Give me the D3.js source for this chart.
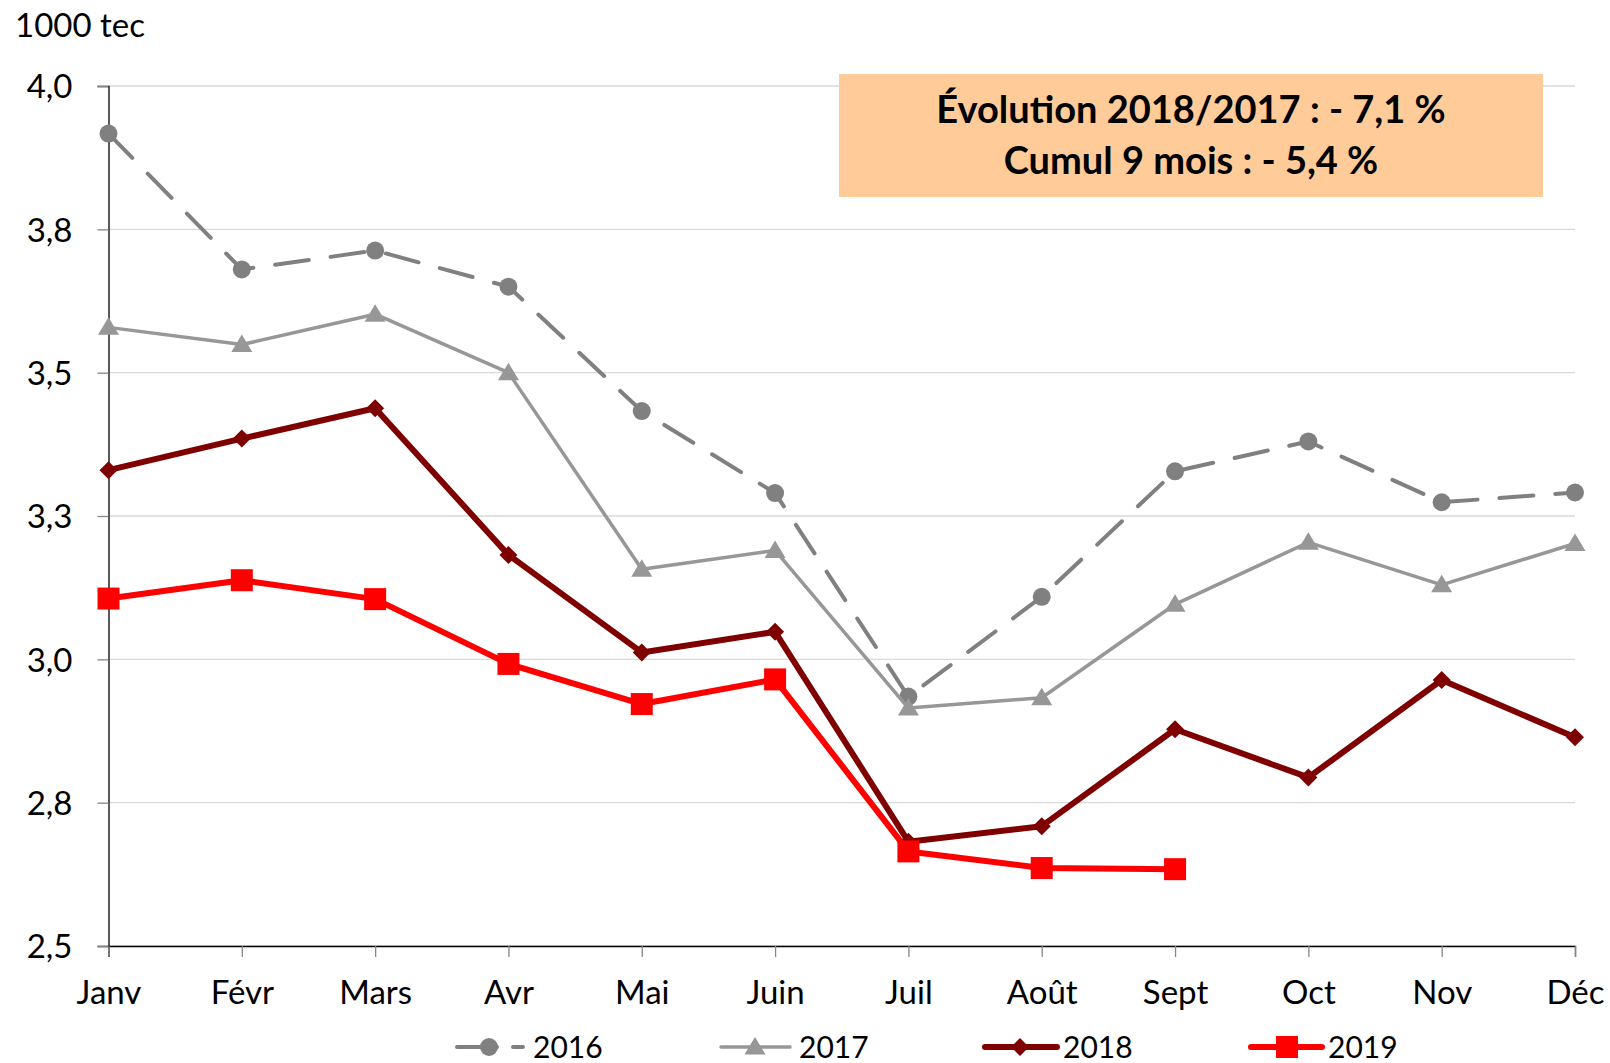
<!DOCTYPE html>
<html>
<head>
<meta charset="utf-8">
<script src="https://cdn.jsdelivr.net/npm/d3@7"></script>
<style>
  html, body { margin: 0; padding: 0; background: #fff; }
  svg { display: block; }
  text { font-family: Lato, "Open Sans", "DejaVu Sans", sans-serif; fill: #000; }
</style>
</head>
<body>
<svg id="chart" width="1610" height="1063"></svg>
<script>
// ---- data ----
const months = ["Janv","Févr","Mars","Avr","Mai","Juin","Juil","Août","Sept","Oct","Nov","Déc"];
const values2016 = [3.917, 3.680, 3.713, 3.650, 3.433, 3.290, 2.935, 3.109, 3.328, 3.380, 3.274, 3.291];
const values2017 = [3.579, 3.549, 3.602, 3.500, 3.157, 3.190, 2.915, 2.933, 3.096, 3.204, 3.130, 3.202];
const values2018 = [3.330, 3.385, 3.438, 3.182, 3.012, 3.048, 2.682, 2.709, 2.878, 2.794, 2.964, 2.864];
const values2019 = [3.106, 3.138, 3.105, 2.992, 2.922, 2.965, 2.665, 2.636, 2.634];
const seriesNames = ["2016", "2017", "2018", "2019"];
const yTickValues = [2.5, 2.75, 3.0, 3.25, 3.5, 3.75, 4.0];
const yTickLabels = ["2,5", "2,8", "3,0", "3,3", "3,5", "3,8", "4,0"];
const yUnit = "1000 tec";
const boxLines = ["Évolution 2018/2017 : - 7,1 %", "Cumul 9 mois : - 5,4 %"];

// ---- layout ----
const svg = d3.select("#chart");
const plotLeft = 108.5, plotRight = 1575, plotTop = 86, plotBottom = 946;

const x = d3.scalePoint().domain(months).range([plotLeft, plotRight]);
const y = d3.scaleLinear().domain([2.5, 4.0]).range([plotBottom, plotTop]);

const styles = {
  "2016": { color: "#808080", width: 4, dash: "34,22", marker: "circle" },
  "2017": { color: "#979797", width: 3.5, dash: null, marker: "triangle" },
  "2018": { color: "#7f0000", width: 6, dash: null, marker: "diamond" },
  "2019": { color: "#ff0000", width: 6, dash: null, marker: "square" }
};
const seriesData = {
  "2016": values2016, "2017": values2017, "2018": values2018, "2019": values2019
};

// gridlines
svg.append("g").selectAll("line").data(yTickValues).join("line")
  .attr("x1", plotLeft).attr("x2", plotRight)
  .attr("y1", d => y(d)).attr("y2", d => y(d))
  .attr("stroke", "#d9d9d9").attr("stroke-width", 1.3);

// y axis
const yAxis = d3.axisLeft(y).tickValues(yTickValues)
  .tickFormat((d, i) => yTickLabels[i]).tickSize(11).tickPadding(25);
const gy = svg.append("g").attr("transform", `translate(${plotLeft},0)`).call(yAxis);
gy.select(".domain").attr("stroke", "#000").attr("stroke-width", 1.3);
gy.selectAll(".tick line").attr("stroke", "#868686").attr("stroke-width", 1.3);
gy.selectAll(".tick text").attr("font-size", 33).attr("font-family", "Lato, 'Open Sans', sans-serif").attr("fill", "#000").attr("dy", "0.36em");

// x axis
const xAxis = d3.axisBottom(x).tickSize(11).tickPadding(23);
const gx = svg.append("g").attr("transform", `translate(0,${plotBottom})`).call(xAxis);
gx.select(".domain").attr("stroke", "#000").attr("stroke-width", 1.3);
gx.selectAll(".tick line").attr("stroke", "#868686").attr("stroke-width", 1.3);
gx.selectAll(".tick text").attr("font-size", 33).attr("font-family", "Lato, 'Open Sans', sans-serif").attr("fill", "#000").attr("dy", "0.72em");

// unit label
svg.append("text").attr("x", 15).attr("y", 37).attr("font-size", 33).text(yUnit);

// annotation box
svg.append("rect").attr("x", 839).attr("y", 74).attr("width", 704).attr("height", 123)
  .attr("fill", "#ffcc99");
svg.append("text").attr("x", 1191).attr("y", 123).attr("text-anchor", "middle")
  .attr("font-size", 38).attr("font-weight", "bold").text(boxLines[0]);
svg.append("text").attr("x", 1191).attr("y", 174).attr("text-anchor", "middle")
  .attr("font-size", 38).attr("font-weight", "bold").text(boxLines[1]);

// marker drawing
function drawMarker(g, type, cx, cy, color) {
  if (type === "circle") {
    g.append("circle").attr("cx", cx).attr("cy", cy).attr("r", 9).attr("fill", color);
  } else if (type === "triangle") {
    const s = 10;
    g.append("path").attr("d", `M${cx},${cy - s}L${cx + s * 1.05},${cy + s * 0.75}L${cx - s * 1.05},${cy + s * 0.75}Z`).attr("fill", color);
  } else if (type === "diamond") {
    const s = 9;
    g.append("path").attr("d", `M${cx},${cy - s}L${cx + s},${cy}L${cx},${cy + s}L${cx - s},${cy}Z`).attr("fill", color);
  } else if (type === "square") {
    const s = 11;
    g.append("rect").attr("x", cx - s).attr("y", cy - s).attr("width", 2 * s).attr("height", 2 * s).attr("fill", color);
  }
}

const line = d3.line().x((d, i) => x(months[i])).y(d => y(d));

seriesNames.forEach(name => {
  const st = styles[name];
  const vals = seriesData[name];
  const g = svg.append("g");
  const p = g.append("path").attr("d", line(vals)).attr("fill", "none")
    .attr("stroke", st.color).attr("stroke-width", st.width)
    .attr("stroke-linejoin", "round").attr("stroke-linecap", "round");
  if (st.dash) p.attr("stroke-dasharray", st.dash);
  vals.forEach((v, i) => drawMarker(g, st.marker, x(months[i]), y(v), st.color));
});

// legend
const legendY = 1047;
const legendItems = [
  { name: "2016", x1: 457, x2: 523, mx: 489, tx: 533, dash: "40,16" },
  { name: "2017", x1: 721, x2: 790, mx: 755, tx: 799, dash: null },
  { name: "2018", x1: 985, x2: 1057, mx: 1020, tx: 1063, dash: null },
  { name: "2019", x1: 1251, x2: 1322, mx: 1287, tx: 1328, dash: null }
];
legendItems.forEach(it => {
  const st = styles[it.name];
  const g = svg.append("g");
  const l = g.append("line").attr("x1", it.x1).attr("x2", it.x2).attr("y1", legendY).attr("y2", legendY)
    .attr("stroke", st.color).attr("stroke-width", st.width).attr("stroke-linecap", "round");
  if (it.dash) l.attr("stroke-dasharray", it.dash);
  drawMarker(g, st.marker, it.mx, legendY, st.color);
  g.append("text").attr("x", it.tx).attr("y", legendY + 11).attr("font-size", 30).text(it.name);
});
</script>
</body>
</html>
